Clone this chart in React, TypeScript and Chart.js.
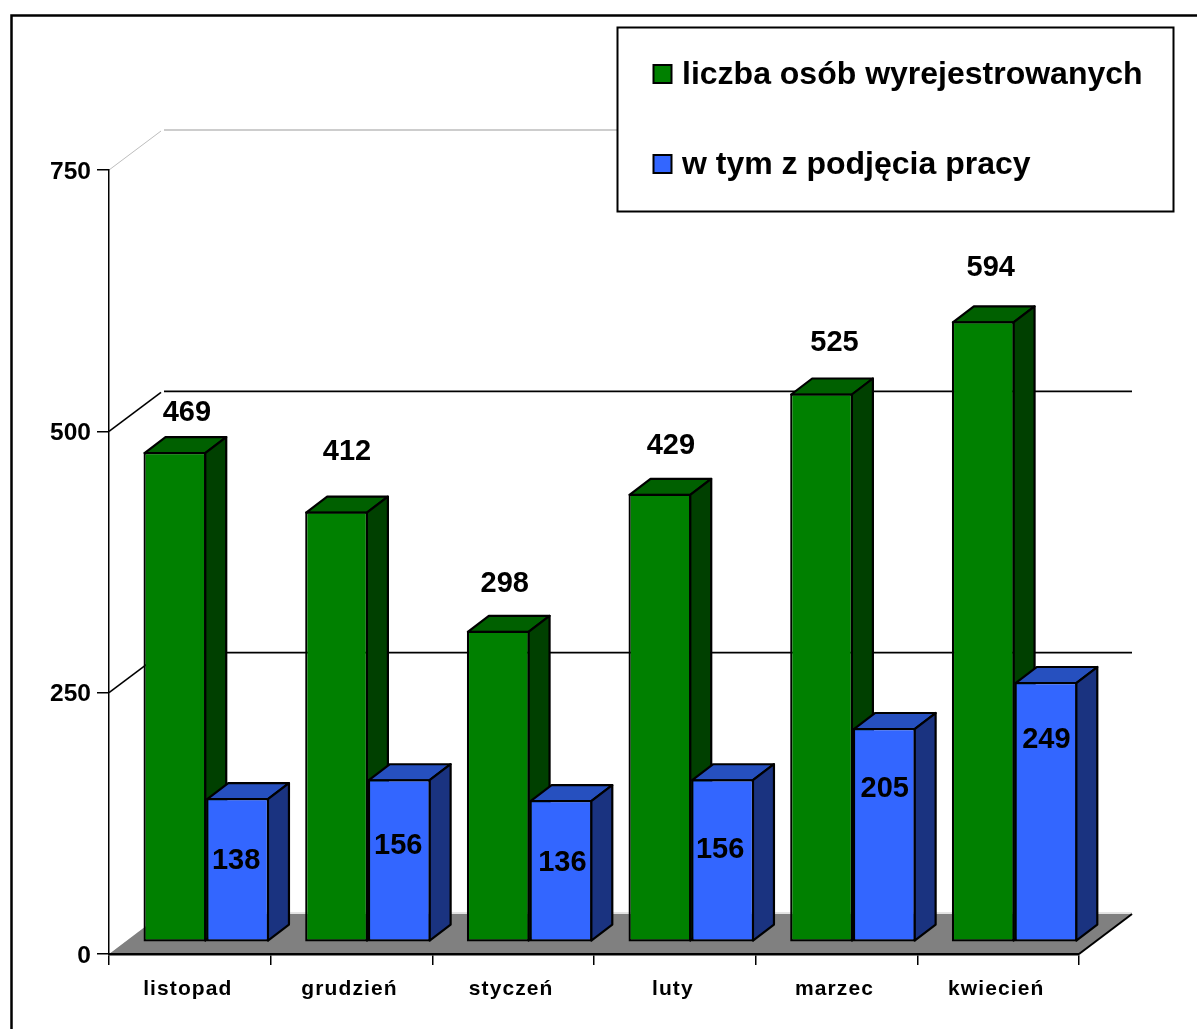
import React, { useEffect, useRef } from "react";
import { Chart, registerables } from "chart.js";

Chart.register(...registerables);

const categories = ["listopad", "grudzień", "styczeń", "luty", "marzec", "kwiecień"];
const registeredOff = [469, 412, 298, 429, 525, 594];
const fromEmployment = [138, 156, 136, 156, 205, 249];
const seriesNames = ["liczba osób wyrejestrowanych", "w tym z podjęcia pracy"];
const yTicks = [0, 250, 500, 750];

// label nudges relative to their bar
const greenLabelDx = [12, 10.5, 6.5, 11, 13, 7.5];
const greenLabelGap = [39, 60, 47, 48, 51, 53];
const blueLabelDx = [-1.5, -1, 1.5, -2.5, 0.5, 0.5];
const blueLabelGap = [63, 67, 63, 71, 61, 58];

const FONT = '"Liberation Sans", Arial, sans-serif';
const WALL_DX = 53;
const WALL_DY = 40;
const BAR_SHIFT_X = 16.4;
const BAR_SHIFT_Y = 11.7;
const DEPTH_X = 21;
const DEPTH_Y = 16;

const faceColors = [
  { top: "#006000", side: "#004000" },
  { top: "#2650bf", side: "#1a3380" },
];

function poly(ctx: CanvasRenderingContext2D, pts: number[][], fill: string | null, stroke: string | null, lw = 2) {
  ctx.beginPath();
  pts.forEach((p, i) => (i ? ctx.lineTo(p[0], p[1]) : ctx.moveTo(p[0], p[1])));
  ctx.closePath();
  if (fill) {
    ctx.fillStyle = fill;
    ctx.fill();
  }
  if (stroke) {
    ctx.strokeStyle = stroke;
    ctx.lineWidth = lw;
    ctx.lineJoin = "round";
    ctx.stroke();
  }
}

function line(ctx: CanvasRenderingContext2D, pts: number[][], color: string, lw: number) {
  ctx.beginPath();
  pts.forEach((p, i) => (i ? ctx.lineTo(p[0], p[1]) : ctx.moveTo(p[0], p[1])));
  ctx.strokeStyle = color;
  ctx.lineWidth = lw;
  ctx.stroke();
}

const scene3d = {
  id: "scene3d",
  beforeDraw(chart: any) {
    const { ctx, scales, chartArea } = chart;
    const y = scales.y;
    const x = scales.x;
    if (!x.__spaced) {
      const orig = x.drawLabels;
      x.drawLabels = function (area: any) {
        ctx.save();
        (ctx as any).letterSpacing = "1.1px";
        orig.call(this, area);
        ctx.restore();
      };
      x.__spaced = true;
    }
    const l = chartArea.left;
    const r = chartArea.right;
    ctx.save();
    // outer frame
    line(ctx, [[11.5, 1100], [11.5, 15.5], [1300, 15.5]], "#000", 2.5);
    // floor
    const y0 = y.getPixelForValue(0);
    poly(ctx, [[l, y0], [l + WALL_DX, y0 - WALL_DY], [r + WALL_DX, y0 - WALL_DY], [r, y0]], "#808080", null);
    line(ctx, [[l + WALL_DX, y0 - WALL_DY - 1], [r + WALL_DX, y0 - WALL_DY - 1]], "#c8c8c8", 1);
    line(ctx, [[l + 1, y0 - 2], [l + WALL_DX, y0 - WALL_DY - 2]], "#ffffff", 1.5);
    line(ctx, [[r, y0], [r + WALL_DX, y0 - WALL_DY]], "#000", 2);
    // wall gridlines
    for (const v of yTicks) {
      if (v === 0) continue;
      const py = y.getPixelForValue(v);
      const color = v === 750 ? "#bdbdbd" : "#000";
      line(ctx, [[l, py], [l + WALL_DX - 1, py - WALL_DY + 1]], color, v === 750 ? 1 : 1.6);
      line(ctx, [[l + WALL_DX + 2, py - WALL_DY], [r + WALL_DX, py - WALL_DY]], color, v === 750 ? 1.5 : 1.6);
    }
    ctx.restore();
  },
  beforeDatasetsDraw(chart: any) {
    const { ctx } = chart;
    ctx.save();
    ctx.translate(BAR_SHIFT_X, -BAR_SHIFT_Y);
    [0, 1].forEach((ds) => {
      chart.getDatasetMeta(ds).data.forEach((el: any) => {
        const w = el.width;
        const a = el.x - w / 2 + 1;
        const b = el.x + w / 2 - 1;
        const base = el.base - 1;
        const top = el.y + 1;
        poly(ctx, [[a, top], [a + DEPTH_X, top - DEPTH_Y], [b + DEPTH_X, top - DEPTH_Y], [b, top]], faceColors[ds].top, "#000", 2.2);
        poly(ctx, [[b, top], [b + DEPTH_X, top - DEPTH_Y], [b + DEPTH_X, base - DEPTH_Y], [b, base]], faceColors[ds].side, "#000", 2.2);
      });
    });
  },
  afterDatasetsDraw(chart: any) {
    const { ctx } = chart;
    ctx.font = `bold 29px ${FONT}`;
    ctx.fillStyle = "#000";
    ctx.textAlign = "center";
    ctx.textBaseline = "middle";
    chart.getDatasetMeta(0).data.forEach((el: any, i: number) => {
      ctx.fillText(String(registeredOff[i]), el.x + greenLabelDx[i], el.y - greenLabelGap[i]);
    });
    chart.getDatasetMeta(1).data.forEach((el: any, i: number) => {
      ctx.fillText(String(fromEmployment[i]), el.x + blueLabelDx[i], el.y + blueLabelGap[i]);
    });
    ctx.restore();

    // legend box
    ctx.save();
    ctx.fillStyle = "#fff";
    ctx.fillRect(617.5, 27.5, 556, 184);
    ctx.strokeStyle = "#000";
    ctx.lineWidth = 2;
    ctx.strokeRect(617.5, 27.5, 556, 184);
    const centers = [75, 165];
    chart.data.datasets.forEach((ds: any, i: number) => {
      const cy = centers[i];
      ctx.fillStyle = ds.backgroundColor;
      ctx.fillRect(653.5, cy - 10, 18, 18);
      ctx.strokeStyle = "#000";
      ctx.lineWidth = 2;
      ctx.strokeRect(653.5, cy - 10, 18, 18);
      ctx.fillStyle = "#000";
      ctx.font = `bold 32px ${FONT}`;
      ctx.textAlign = "left";
      ctx.textBaseline = "middle";
      ctx.fillText(ds.label, 682, cy);
    });
    ctx.restore();
  },
};

export default function App() {
  const ref = useRef<HTMLCanvasElement>(null);
  useEffect(() => {
    const chart = new Chart(ref.current!, {
      type: "bar",
      data: {
        labels: categories,
        datasets: [
          { label: seriesNames[0], data: registeredOff, backgroundColor: "#008000", borderColor: "#000", borderWidth: 2.2, borderSkipped: false, clip: false },
          { label: seriesNames[1], data: fromEmployment, backgroundColor: "#3366ff", borderColor: "#000", borderWidth: 2.2, borderSkipped: false, clip: false },
        ] as any,
      },
      options: {
        animation: false,
        responsive: false,
        events: [],
        layout: { padding: { top: 170, right: 118, left: 0, bottom: 0 } },
        datasets: { bar: { categoryPercentage: 0.776, barPercentage: 1 } },
        plugins: { legend: { display: false }, tooltip: { enabled: false }, title: { display: false } },
        scales: {
          x: {
            afterFit: (s: any) => { s.height = 75; },
            border: { color: "#000", width: 2.5 },
            grid: { drawOnChartArea: false, color: "#000", lineWidth: 1.5, tickLength: 11 },
            ticks: { color: "#000", font: { family: FONT, size: 21, weight: "bold" }, padding: 12, maxRotation: 0, labelOffset: -2 },
          },
          y: {
            min: 0,
            max: 750,
            afterFit: (s: any) => { s.width = 109; },
            afterBuildTicks: (s: any) => { s.ticks = yTicks.map((v) => ({ value: v })); },
            border: { color: "#000", width: 1.5 },
            grid: { drawOnChartArea: false, color: "#000", lineWidth: 1.5, tickLength: 12 },
            ticks: { color: "#000", font: { family: FONT, size: 24.5, weight: "bold" }, padding: 6, labelOffset: 2 },
          },
        },
      } as any,
      plugins: [scene3d],
    });
    return () => chart.destroy();
  }, []);
  return (
    <div style={{ position: "absolute", left: 0, top: 0, width: 1197, height: 1029, overflow: "hidden", background: "#fff" }}>
      <canvas ref={ref} width={1197} height={1029} style={{ display: "block" }} />
    </div>
  );
}
